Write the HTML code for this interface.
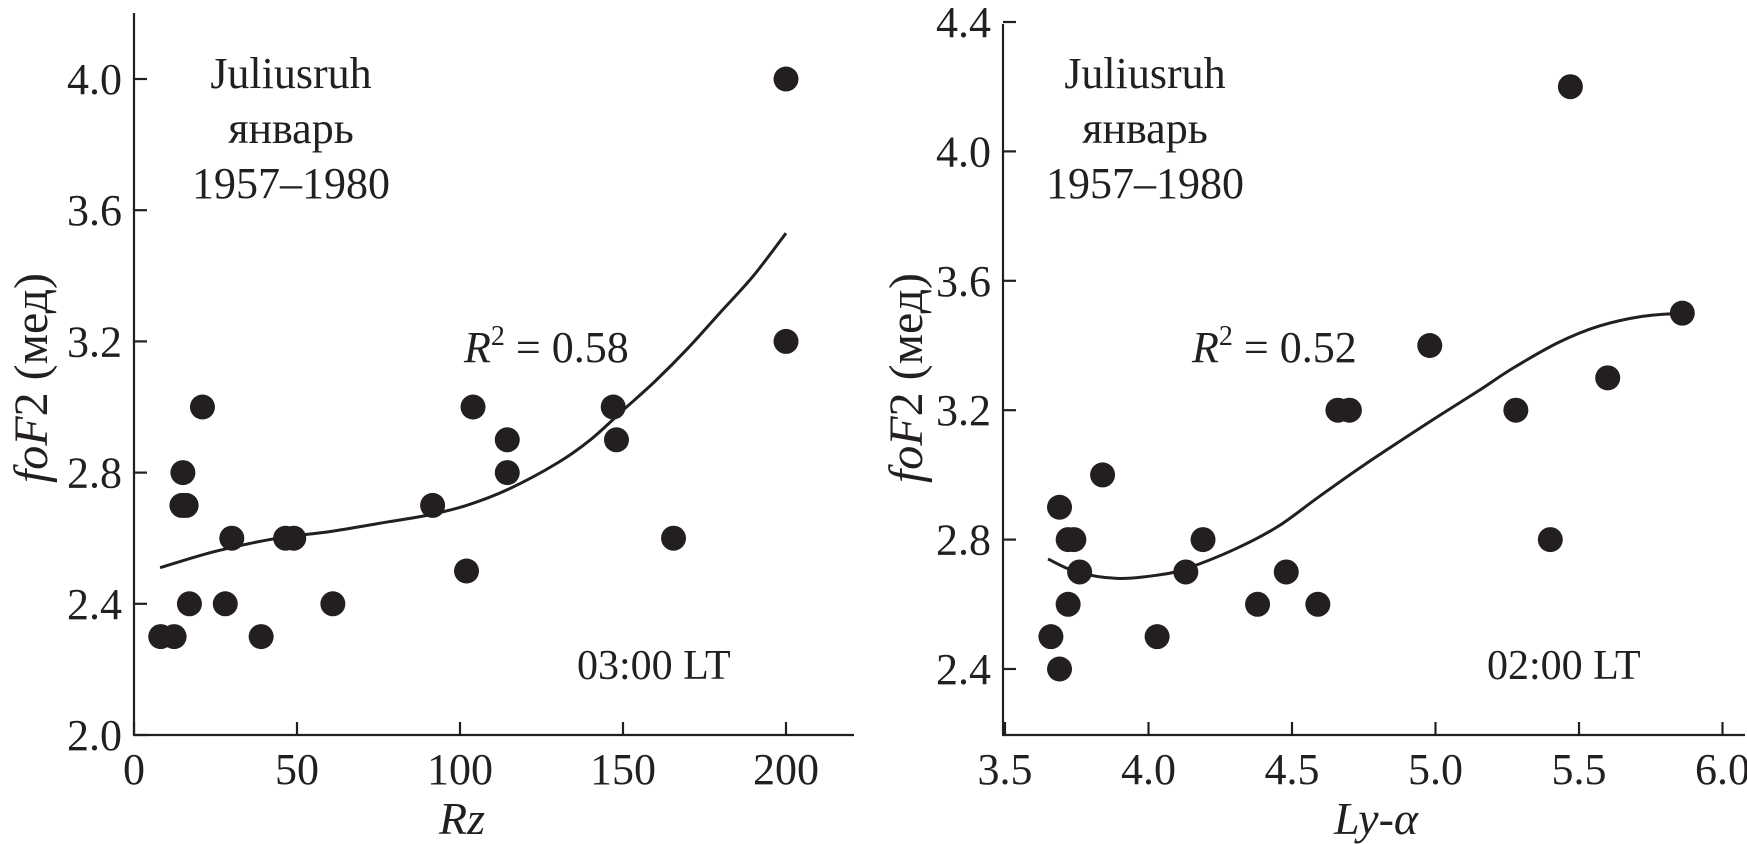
<!DOCTYPE html>
<html><head><meta charset="utf-8"><style>
html,body{margin:0;padding:0;background:#fff;}
svg{display:block;font-family:"Liberation Serif",serif;fill:#231f20;}
text{fill:#231f20;}
</style></head><body>
<svg id="chart" width="1747" height="844" viewBox="0 0 1747 844"></svg>
<script>
// Left panel data (Rz vs foF2)
const leftX = [8.2,12.3,15,14.7,16,17,21,28,30,39,46.5,49,61,91.6,102,104,114.5,114.5,147,148,165.5,200,200];
const leftY = [2.3,2.3,2.8,2.7,2.7,2.4,3.0,2.4,2.6,2.3,2.6,2.6,2.4,2.7,2.5,3.0,2.9,2.8,3.0,2.9,2.6,4.0,3.2];
const leftFitX = [8,25,44,60,78,90,102,115,130,140,150,160,170,180,190,200];
const leftFitY = [2.51,2.56,2.60,2.62,2.65,2.67,2.70,2.75,2.83,2.90,2.99,3.08,3.18,3.29,3.40,3.53];
const leftXTicks = [0,50,100,150,200];
const leftYTicks = [2.0,2.4,2.8,3.2,3.6,4.0];
// Right panel data (Ly-alpha vs foF2)
const rightX = [3.69,3.66,3.72,3.76,3.72,3.74,3.69,3.84,4.03,4.13,4.19,4.38,4.48,4.59,4.66,4.70,5.47,4.98,5.86,5.60,5.28,5.40];
const rightY = [2.4,2.5,2.6,2.7,2.8,2.8,2.9,3.0,2.5,2.7,2.8,2.6,2.7,2.6,3.2,3.2,4.2,3.4,3.5,3.3,3.2,2.8];
const rightFitX = [3.65,3.75,3.89,4.03,4.13,4.30,4.45,4.59,4.75,4.99,5.15,5.27,5.43,5.57,5.72,5.86];
const rightFitY = [2.74,2.70,2.68,2.69,2.71,2.77,2.84,2.93,3.03,3.17,3.26,3.33,3.41,3.46,3.49,3.50];
const rightXTicks = [3.5,4.0,4.5,5.0,5.5,6.0];
const rightYTicks = [2.4,2.8,3.2,3.6,4.0,4.4];

const NS='http://www.w3.org/2000/svg';
const svg=document.getElementById('chart');
function mk(tag,attrs,parent){const e=document.createElementNS(NS,tag);for(const k in attrs)e.setAttribute(k,attrs[k]);(parent||svg).appendChild(e);return e;}
const FS=44;
const panels=[
 {id:'left',xs:leftX,ys:leftY,fx:leftFitX,fy:leftFitY,xt:leftXTicks,yt:leftYTicks,
  sx:v=>134+v*3.26, sy:v=>735-(v-2.0)*328, ax0:134, axEnd:854, ayTop:13, ay0:735,
  xdec:0, title:'Rz', titleX:462, tx:291, r2x:464, ltx:577, lt:'03:00 LT', r2:'0.58', ylx:33},
 {id:'right',xs:rightX,ys:rightY,fx:rightFitX,fy:rightFitY,xt:rightXTicks,yt:rightYTicks,
  sx:v=>1005+(v-3.5)*287, sy:v=>669-(v-2.4)*323.5, ax0:1003, axEnd:1745, ayTop:24, ay0:735,
  xdec:1, title:'Ly-α', titleX:1376, tx:1145, r2x:1192, ltx:1487, lt:'02:00 LT', r2:'0.52', ylx:908}
];

panels.forEach(p=>{
  const g=mk('g',{});
  
  
  const ya=mk('line',{x1:p.ax0,y1:p.ayTop,x2:p.ax0,y2:p.ay0,stroke:'#231f20','stroke-width':2.2},g);
  
  
  const xa=mk('line',{x1:p.ax0-1,y1:p.ay0,x2:p.axEnd,y2:p.ay0,stroke:'#231f20','stroke-width':2.2},g);
  
  
  p.yt.forEach(v=>{
    const y=p.sy(v);
    const t=mk('line',{x1:p.ax0,y1:y,x2:p.ax0+13,y2:y,stroke:'#231f20','stroke-width':2.2},g);
    
    
    const l=mk('text',{x:p.ax0-12,y:y+15,'text-anchor':'end','font-size':FS},g);
    l.textContent=v.toFixed(1);
    
    
  });
  p.xt.forEach(v=>{
    const x=p.sx(v);
    const t=mk('line',{x1:x,y1:p.ay0,x2:x,y2:p.ay0-13,stroke:'#231f20','stroke-width':2.2},g);
    
    
    const l=mk('text',{x:x,y:784,'text-anchor':'middle','font-size':FS},g);
    l.textContent=v.toFixed(p.xdec);
    
    
  });
  const pts=p.fx.map((v,i)=>[p.sx(v),p.sy(p.fy[i])]);
  let d='M'+pts[0][0]+','+pts[0][1];
  for(let i=0;i<pts.length-1;i++){
    const p0=pts[Math.max(0,i-1)],p1=pts[i],p2=pts[i+1],p3=pts[Math.min(pts.length-1,i+2)];
    d+=' C'+(p1[0]+(p2[0]-p0[0])/6)+','+(p1[1]+(p2[1]-p0[1])/6)+' '+(p2[0]-(p3[0]-p1[0])/6)+','+(p2[1]-(p3[1]-p1[1])/6)+' '+p2[0]+','+p2[1];
  }
  const c=mk('path',{d:d,fill:'none',stroke:'#231f20','stroke-width':3},g);
  
  
  p.xs.forEach((v,i)=>{
    const dot=mk('circle',{cx:p.sx(v),cy:p.sy(p.ys[i]),r:12.5,fill:'#231f20'},g);
    
    
  });
  const tt=mk('text',{x:p.tx,'text-anchor':'middle','font-size':FS},g);
  tt.innerHTML='<tspan x="'+p.tx+'" y="88">Juliusruh</tspan><tspan x="'+p.tx+'" y="143">январь</tspan><tspan x="'+p.tx+'" y="198">1957–1980</tspan>';
  
  
  const r2=mk('text',{x:p.r2x,y:362,'font-size':FS},g);
  r2.innerHTML='<tspan font-style="italic">R</tspan><tspan font-size="28" dy="-17">2</tspan><tspan dy="17"> = '+p.r2+'</tspan>';
  
  
  const lt=mk('text',{x:p.ltx,y:679,'font-size':42},g);
  lt.textContent=p.lt;
  
  
  const xt=mk('text',{x:p.titleX,y:834,'text-anchor':'middle','font-size':FS+2,'font-style':'italic'},g);
  xt.textContent=p.title;
  
  
  const yl=mk('text',{x:0,y:0,'text-anchor':'middle','font-size':48,transform:'translate('+(p.ylx+14)+',378) rotate(-90)'},g);
  yl.innerHTML='<tspan font-style="italic">foF</tspan>2 (мед)';
  
  
});
</script>
</body></html>
